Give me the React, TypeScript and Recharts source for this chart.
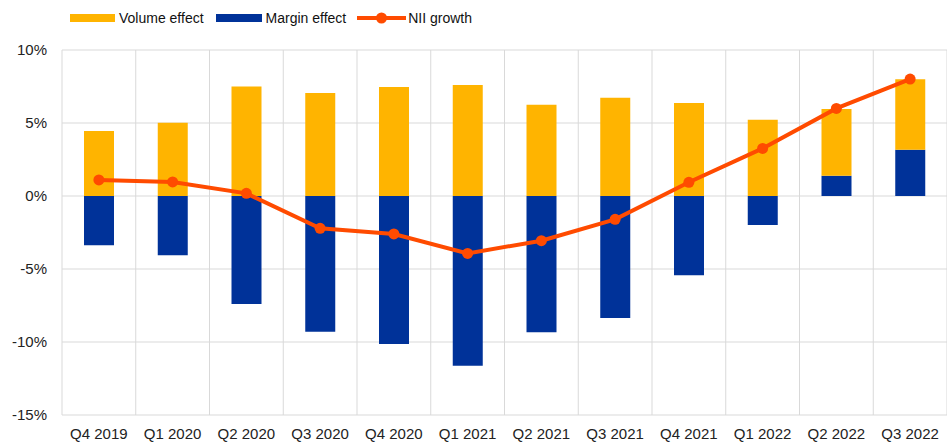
import React from "react";
import { ComposedChart, Bar, Line, XAxis, YAxis, CartesianGrid } from "recharts";

const categories = ["Q4 2019", "Q1 2020", "Q2 2020", "Q3 2020", "Q4 2020", "Q1 2021", "Q2 2021", "Q3 2021", "Q4 2021", "Q1 2022", "Q2 2022", "Q3 2022"];
const volumeEffect = [4.45, 5.02, 7.5, 7.05, 7.47, 7.6, 6.25, 6.73, 6.37, 5.23, 4.57, 4.82];
const marginEffect = [-3.38, -4.06, -7.4, -9.29, -10.14, -11.62, -9.34, -8.35, -5.43, -1.99, 1.39, 3.17];
const niiGrowth = [1.1, 0.96, 0.18, -2.21, -2.6, -3.93, -3.06, -1.6, 0.94, 3.26, 6.0, 8.01];
const yTicks = [-15, -10, -5, 0, 5, 10];

const YELLOW = "#FFB400";
const BLUE = "#003299";
const ORANGE = "#FF4B00";
const FONT = "'Liberation Sans', Arial, sans-serif";

const data = categories.map((c, i) => ({
  name: c,
  volume: volumeEffect[i],
  margin: marginEffect[i],
  nii: niiGrowth[i],
}));

function LegendBar() {
  const textStyle: React.CSSProperties = { fontFamily: FONT, fontSize: 14, color: "#111", whiteSpace: "nowrap" };
  return (
    <div style={{ position: "absolute", left: 70, top: 8, display: "flex", alignItems: "center", height: 20 }}>
      <svg width={45} height={10} style={{ marginRight: 4 }}>
        <rect x={0} y={1} width={45} height={8} fill={YELLOW} />
      </svg>
      <span style={{ ...textStyle, marginRight: 12 }}>Volume effect</span>
      <svg width={46} height={10} style={{ marginRight: 4 }}>
        <rect x={0} y={1} width={46} height={8} fill={BLUE} />
      </svg>
      <span style={{ ...textStyle, marginRight: 11 }}>Margin effect</span>
      <svg width={49} height={12} style={{ marginRight: 2 }}>
        <line x1={0} y1={6} x2={49} y2={6} stroke={ORANGE} strokeWidth={4} strokeLinecap="round" />
        <circle cx={24.5} cy={6} r={5.5} fill={ORANGE} />
      </svg>
      <span style={textStyle}>NII growth</span>
    </div>
  );
}

export default function App() {
  return (
    <div style={{ position: "absolute", left: 0, top: 0, width: 947, height: 442, background: "#fff" }}>
      <LegendBar />
      <ComposedChart
        width={947}
        height={442}
        data={data}
        stackOffset="sign"
        margin={{ top: 50, right: 0, bottom: 0, left: 0 }}
      >
        <CartesianGrid
          stroke="#d9d9d9"
          strokeWidth={1}
          verticalCoordinatesGenerator={({ offset }: any) =>
            categories.map((_, i) => offset.left + (i * offset.width) / categories.length).concat([offset.left + offset.width])
          }
        />
        <XAxis
          dataKey="name"
          height={27}
          tickLine={false}
          axisLine={false}
          tickSize={0}
          tickMargin={13}
          interval={0}
          tick={{ fontFamily: FONT, fontSize: 15, fill: "#222" }}
        />
        <YAxis
          width={62}
          domain={[-15, 10]}
          ticks={yTicks}
          allowDataOverflow
          tickLine={false}
          axisLine={false}
          tickSize={0}
          tickMargin={15}
          tickFormatter={(v: number) => `${v}%`}
          tick={{ fontFamily: FONT, fontSize: 15, fill: "#222" }}
        />
        <Bar dataKey="margin" stackId="a" fill={BLUE} barSize={30} isAnimationActive={false} />
        <Bar dataKey="volume" stackId="a" fill={YELLOW} barSize={30} isAnimationActive={false} />
        <Line
          dataKey="nii"
          type="linear"
          stroke={ORANGE}
          strokeWidth={4}
          dot={{ r: 5.5, fill: ORANGE, stroke: ORANGE, strokeWidth: 0 }}
          activeDot={false}
          isAnimationActive={false}
        />
      </ComposedChart>
    </div>
  );
}
